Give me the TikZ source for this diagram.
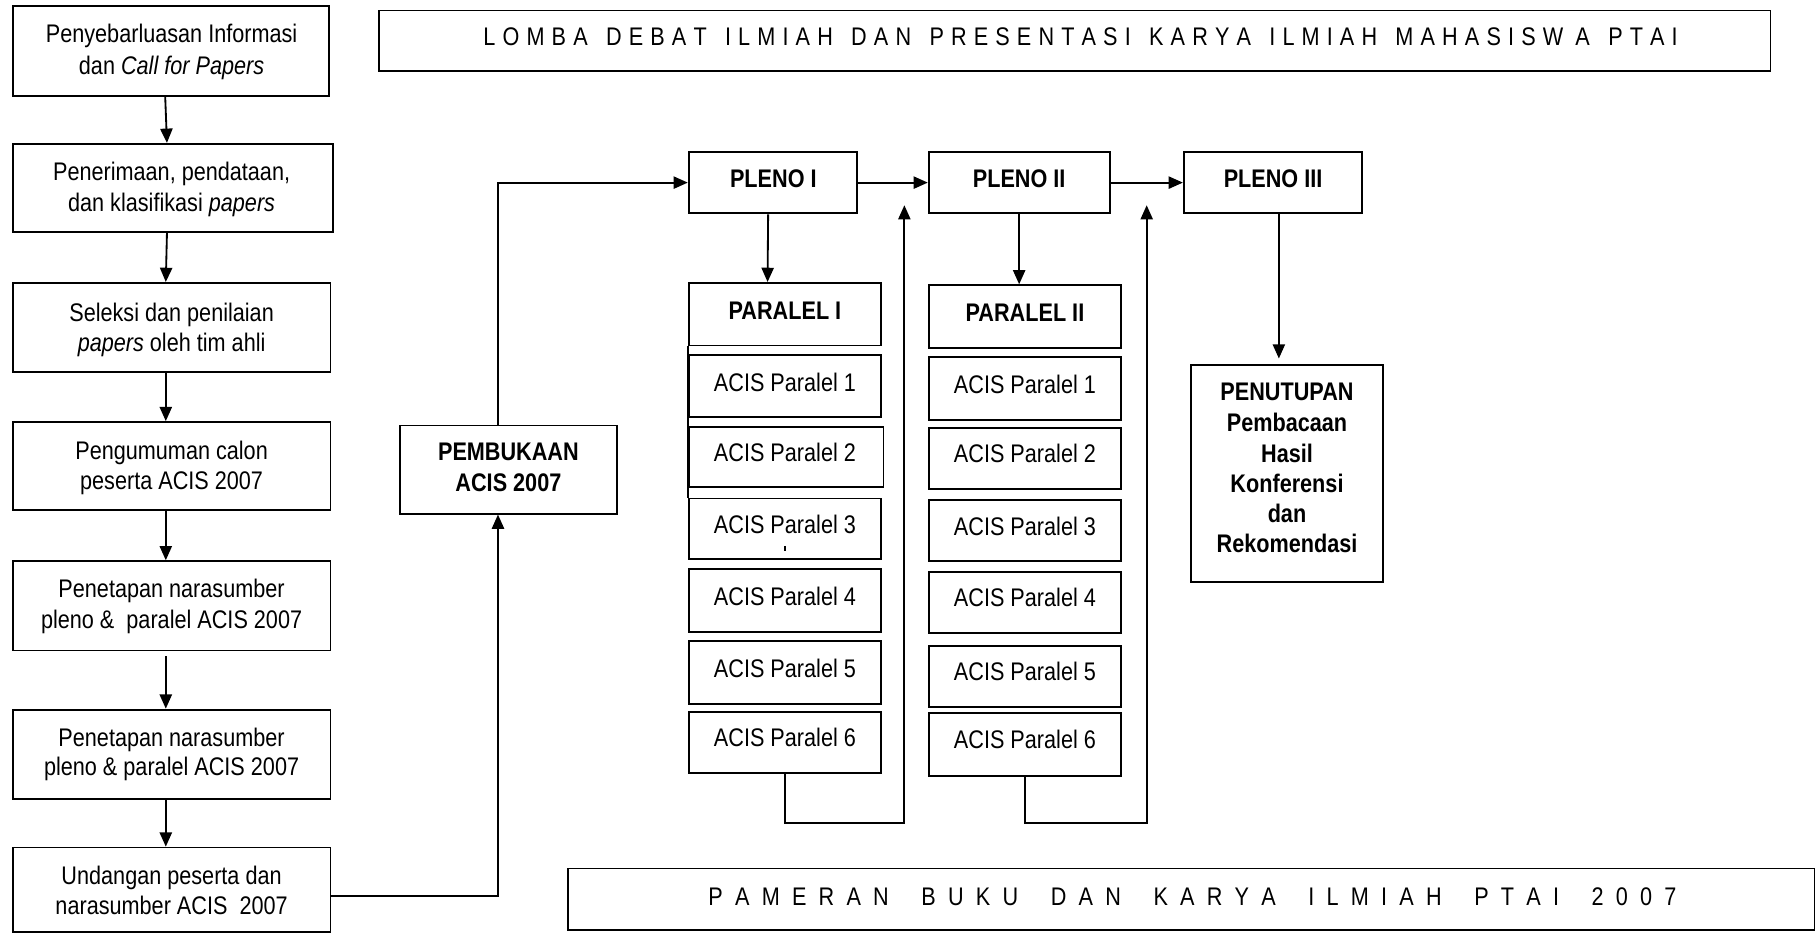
\documentclass[tikz,border=0pt]{standalone}
\usepackage{fontspec}
\setmainfont{Liberation Sans}[FakeStretch=0.85]
\usetikzlibrary{arrows.meta,fit,calc}
\tikzset{
  frm/.style={draw, line width=0.9pt, inner sep=0pt},
  txt/.style={anchor=base, inner sep=0pt, font=\fontsize{12.5}{14.2}\selectfont},
  bld/.style={font=\fontsize{12.5}{14.2}\selectfont\bfseries},
  arr/.style={line width=0.9pt, -{Triangle[length=7pt,width=6pt]}},
  ln/.style={line width=0.9pt}
}
\newcommand\fr[5]{\node[frm, fit={(#2,#3) (#4,#5)}] (#1) {};}
\newcommand\tx[5][]{\node[txt,#1] (#2) at (#3,#4) {#5};}
\newcommand\wgA{\hspace{9pt}}
\newcommand\wgB{\hspace{16pt}}
\begin{document}
\begin{tikzpicture}[x=0.02cm, y=-0.02cm]
\useasboundingbox (0,0) rectangle (1568,805);
% ---------- left column ----------
\fr{b1}{11}{5}{284}{83}
\tx{b1a}{148}{37}{Penyebarluasan Informasi}
\tx{b1b}{148}{64}{dan \textit{Call for Papers}}
\fr{b2}{11}{124}{287}{200}
\tx{b2a}{148}{156}{Penerimaan, pendataan,}
\tx{b2b}{148}{182}{dan klasifikasi \textit{papers}}
\fr{b3}{11}{244}{285}{321}
\tx{b3a}{148}{277}{Seleksi dan penilaian}
\tx{b3b}{148}{303}{\textit{papers} oleh tim ahli}
\fr{b4}{11}{364}{285}{440}
\tx{b4a}{148}{396}{Pengumuman calon}
\tx{b4b}{148}{422}{peserta ACIS 2007}
\fr{b5}{11}{484}{285}{561}
\tx{b5a}{148}{515.5}{Penetapan narasumber}
\tx{b5b}{148}{542}{pleno \&\ \ paralel ACIS 2007}
\fr{b6}{11}{612}{285}{689}
\tx{b6a}{148}{643.5}{Penetapan narasumber}
\tx{b6b}{148}{669}{pleno \& paralel ACIS 2007}
\fr{b7}{11}{731}{285}{804}
\tx{b7a}{148}{763}{Undangan peserta dan}
\tx{b7b}{148}{788.5}{narasumber ACIS\ \ 2007}
% ---------- titles ----------
\fr{lomba}{327}{9}{1527}{61}
\tx{lombat}{932}{39}{\spaceskip=3.5pt\relax L O M B A\wgA D E B A T\wgA I L M I A H\wgA D A N\wgA P R E S E N T A S I\wgA K A R Y A\wgA I L M I A H\wgA M A H A S I S W\hspace{6pt}A\wgA P T A I}
\fr{pameran}{490}{749}{1565}{802}
\tx{pament}{1028.5}{781}{\spaceskip=6pt\relax P A M E R A N\wgB B U K U\wgB D A N\wgB K A R Y A\wgB I L M I A H\wgB P T A I\wgB 2 0 0 7}
% ---------- pembukaan & pleno ----------
\fr{pemb}{345}{367}{532}{443}
\tx[bld]{pemba}{438.5}{397.5}{PEMBUKAAN}
\tx[bld]{pembb}{438.5}{424}{ACIS 2007}
\fr{p1}{594}{131}{739}{184}
\tx[bld]{p1t}{667}{162}{PLENO I}
\fr{p2}{801}{131}{957}{184}
\tx[bld]{p2t}{879}{162}{PLENO II}
\fr{p3}{1021}{131}{1175}{184}
\tx[bld]{p3t}{1098}{162}{PLENO III}
% ---------- paralel I ----------
\fr{par1}{594}{244}{760}{298}
\tx[bld]{par1t}{677}{275.5}{PARALEL I}
\fr{a11}{594}{306}{760}{360}
\tx{a11t}{677}{337.5}{ACIS Paralel 1}
\fr{a12}{594}{368}{762}{420}
\tx{a12t}{677}{398}{ACIS Paralel 2}
\fr{a13}{594}{430}{760}{482}
\tx{a13t}{677}{460}{ACIS Paralel 3}
\fr{a14}{594}{491}{760}{545}
\tx{a14t}{677}{522}{ACIS Paralel 4}
\fr{a15}{594}{553}{760}{607}
\tx{a15t}{677}{584}{ACIS Paralel 5}
\fr{a16}{594}{614}{760}{667}
\tx{a16t}{677}{644}{ACIS Paralel 6}
% ---------- paralel II ----------
\fr{par2}{801}{246}{967}{300}
\tx[bld]{par2t}{884}{277}{PARALEL II}
\fr{a21}{801}{308}{967}{362}
\tx{a21t}{884}{339}{ACIS Paralel 1}
\fr{a22}{801}{369}{967}{422}
\tx{a22t}{884}{399}{ACIS Paralel 2}
\fr{a23}{801}{431}{967}{484}
\tx{a23t}{884}{461.5}{ACIS Paralel 3}
\fr{a24}{801}{493}{967}{546}
\tx{a24t}{884}{523.5}{ACIS Paralel 4}
\fr{a25}{801}{557}{967}{610}
\tx{a25t}{884}{586.5}{ACIS Paralel 5}
\fr{a26}{801}{615}{967}{669}
\tx{a26t}{884}{645.5}{ACIS Paralel 6}
% ---------- penutupan ----------
\fr{pen}{1027}{315}{1193}{502}
\tx[bld]{pen1}{1110}{345.5}{PENUTUPAN}
\tx[bld]{pen2}{1110}{372}{Pembacaan}
\tx[bld]{pen3}{1110}{398.5}{Hasil}
\tx[bld]{pen4}{1110}{424.5}{Konferensi}
\tx[bld]{pen5}{1110}{451}{dan}
\tx[bld]{pen6}{1110}{476.5}{Rekomendasi}
% ---------- left arrows ----------
\draw[arr] ($(b1.south)+(-5,0)$) -- ($(b2.north)+(-5,0)$);
\draw[arr] ($(b2.south)+(-5,0)$) -- ($(b3.north)+(-5,0)$);
\draw[arr] ($(b3.south)+(-5,0)$) -- ($(b4.north)+(-5,0)$);
\draw[arr] ($(b4.south)+(-5,0)$) -- ($(b5.north)+(-5,0)$);
\draw[arr] ($(b5.south)+(-5,4)$) -- ($(b6.north)+(-5,0)$);
\draw[arr] ($(b6.south)+(-5,0)$) -- ($(b7.north)+(-5,0)$);
% ---------- main flow ----------
\draw[arr] ($(b7.east)+(0,5)$) -| ($(pemb.south)+(-9,0)$);
\draw[arr] ($(pemb.north)+(-9,0)$) |- (p1.west);
\draw[arr] (p1.east) -- (p2.west);
\draw[arr] (p2.east) -- (p3.west);
\draw[arr] ($(p1.south)+(-4,0)$) -- ($(par1.north)+(-15,0)$);
\draw[arr] (p2.south) -- (p2.south |- par2.north);
\draw[arr] ($(p3.south)+(5,0)$) -- ($(pen.north)+(-7,-5)$);
% ---------- loops ----------
\coordinate (c1) at (780,710);
\coordinate (t1) at (780,177);
\coordinate (c2) at (989,710);
\coordinate (t2) at (989,177);
\draw[arr] (a16.south) |- (c1) -- (t1);
\draw[arr] (a26.south) |- (c2) -- (t2);
% ---------- details ----------
\draw[ln] (par1.south west) -- (a13.north west);
\draw[line width=0.8pt] ($(a13.south)+(0,-12)$) -- ++(0,4);
\end{tikzpicture}
\end{document}
